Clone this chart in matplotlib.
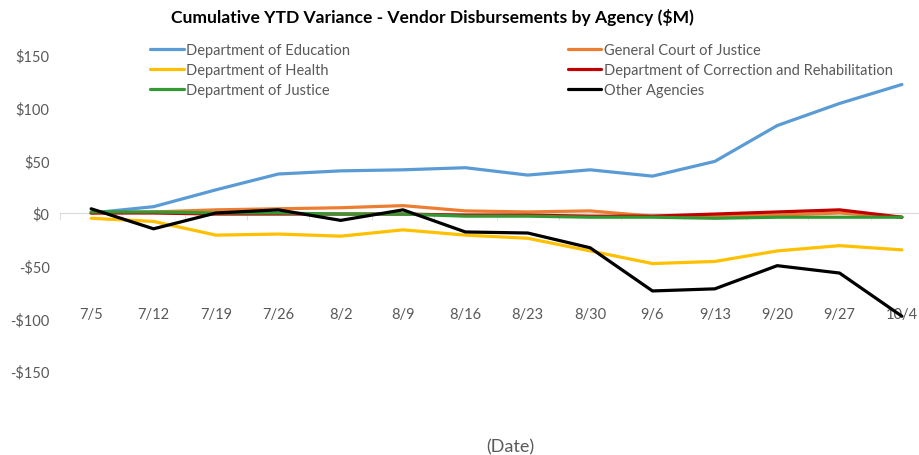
import matplotlib.pyplot as plt
import numpy as np

# Data ($M)
dates = ['7/5', '7/12', '7/19', '7/26', '8/2', '8/9', '8/16', '8/23', '8/30',
         '9/6', '9/13', '9/20', '9/27', '10/4']

education = [0, 6, 22, 37, 40, 41, 43, 36, 41, 35, 49, 83, 104, 122]
general_court = [0, 1, 3, 4, 5, 7, 2, 1, 2, -3, -3, -2, 0, -4]
health = [-5, -8, -21, -20, -22, -16, -21, -24, -36, -48, -46, -36, -31, -35]
correction = [0, 0, -1, -1, -1, -1, -2, -2, -3, -3, -1, 1, 3, -4]
justice = [1, 1, 0, 0, -1, -1, -3, -3, -4, -4, -5, -4, -4, -4]
other = [4, -15, 0, 3, -7, 3, -18, -19, -33, -74, -72, -50, -57, -98]

series = [
    ("Department of Education", education, "#5B9BD5"),
    ("General Court of Justice", general_court, "#ED7D31"),
    ("Department of Health", health, "#FFC000"),
    ("Department of Correction and Rehabilitation", correction, "#C00000"),
    ("Department of Justice", justice, "#339933"),
    ("Other Agencies", other, "#000000"),
]

plt.rcParams['font.family'] = ['Lato', 'DejaVu Sans']
text_gray = '#595959'

fig = plt.figure(figsize=(9.2, 4.56), dpi=100)
ax = fig.add_axes([60 / 920, 1 - 372 / 456, 860 / 920, 316 / 456])

x = np.arange(len(dates))
handles = {}
for name, vals, color in series:
    line, = ax.plot(x, vals, color=color, linewidth=2.3, label=name,
                    solid_joinstyle='round', solid_capstyle='round')
    handles[name] = line

ax.set_xlim(-0.5, len(dates) - 1 + 0.29)
ax.set_ylim(-150, 150)
ax.set_yticks(np.arange(-150, 151, 50))
ax.set_yticklabels(['-$150', '-$100', '-$50', '$0', '$50', '$100', '$150'])

for side in ['top', 'right', 'left']:
    ax.spines[side].set_visible(False)
ax.spines['bottom'].set_position(('data', 0))
ax.spines['bottom'].set_color('#d9d9d9')
ax.spines['bottom'].set_zorder(0)

ax.set_xticks(x)
ax.set_xticklabels(dates)
ax.set_xticks(np.arange(-0.5, len(dates) - 0.5, 1), minor=True)
ax.tick_params(axis='x', which='major', length=0, pad=68, labelsize=10.5,
               labelcolor=text_gray)
ax.tick_params(axis='x', which='minor', length=5, color='#d9d9d9', direction='out')
ax.tick_params(axis='y', length=0, pad=7.5, labelsize=10.5, labelcolor=text_gray)

fig.text(510 / 920, 1 - 447 / 456, '(Date)', ha='center', va='center',
         fontsize=13, color=text_gray)
fig.text(432 / 920, 1 - 17 / 456,
         'Cumulative YTD Variance - Vendor Disbursements by Agency ($M)',
         ha='center', va='center', fontsize=12.6, fontweight='bold')

order = ["Department of Education", "Department of Health", "Department of Justice",
         "General Court of Justice", "Department of Correction and Rehabilitation",
         "Other Agencies"]
fig.legend([handles[n] for n in order], order, ncol=2, frameon=False,
           loc='upper left', bbox_to_anchor=(150 / 920, 1 - 44 / 456),
           fontsize=10.5, handlelength=2.3, handletextpad=0.2,
           columnspacing=14.9, labelspacing=0.42, labelcolor=text_gray,
           borderaxespad=0, borderpad=0)

fig.savefig('out.png', dpi=100)
